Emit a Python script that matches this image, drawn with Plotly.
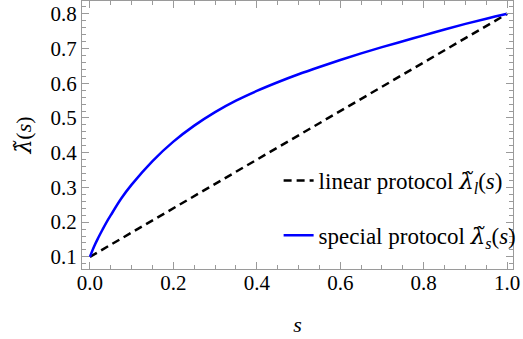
import plotly.graph_objects as go

s_linear = [0.0, 1.0]
lam_linear = [0.1, 0.8]

s_special = [0.0, 0.01, 0.02, 0.03, 0.04, 0.05, 0.075, 0.1, 0.15, 0.2, 0.25, 0.3, 0.35, 0.4, 0.45,
             0.5, 0.55, 0.6, 0.65, 0.7, 0.75, 0.8, 0.85, 0.9, 0.95, 1.0]
lam_special = [0.1, 0.13, 0.155, 0.178, 0.2, 0.22, 0.268, 0.308, 0.376, 0.432, 0.478, 0.517, 0.55,
               0.578, 0.603, 0.626, 0.647, 0.667, 0.686, 0.704, 0.721, 0.738, 0.755, 0.771,
               0.786, 0.8]

x_ticks = [0.0, 0.2, 0.4, 0.6, 0.8, 1.0]
x_ticklabels = ["0.0", "0.2", "0.4", "0.6", "0.8", "1.0"]
y_ticks = [0.1, 0.2, 0.3, 0.4, 0.5, 0.6, 0.7, 0.8]
y_ticklabels = ["0.1", "0.2", "0.3", "0.4", "0.5", "0.6", "0.7", "0.8"]

FONT = "Liberation Serif"
LAM = "<span style='font-family:DejaVu Serif'><i>λ̃</i></span>"

fig = go.Figure()
fig.add_trace(go.Scatter(
    x=s_linear, y=lam_linear, mode="lines",
    line=dict(color="black", width=2.5, dash="8px,5px"),
    name="linear protocol " + LAM + "<sub><i>l</i></sub>(<i>s</i>)",
    legendgroup="a",
))
fig.add_trace(go.Scatter(
    x=s_special, y=lam_special, mode="lines",
    line=dict(color="#0000ff", width=2.5, shape="spline", smoothing=1.0),
    name="special protocol " + LAM + "<sub><i>s</i></sub>(<i>s</i>)",
    legendgroup="b",
))

axis_common = dict(
    showgrid=False, zeroline=False, showline=True, linecolor="#9a9a9a", linewidth=1,
    mirror="allticks", ticks="inside", ticklen=7, tickwidth=1, tickcolor="#9a9a9a",
    tickfont=dict(family=FONT, size=21, color="black"),
    ticklabeloverflow="allow", automargin=False,
)

fig.update_layout(
    width=523, height=339,
    margin=dict(l=82, r=8, t=1, b=70),
    paper_bgcolor="white", plot_bgcolor="white",
    font=dict(family=FONT, size=21, color="black"),
    xaxis=dict(
        range=[-0.019, 1.014], tickvals=x_ticks, ticktext=x_ticklabels,
        minor=dict(dtick=0.05, ticks="inside", ticklen=4, tickcolor="#9a9a9a"),
        ticklabelstandoff=-5,
        title=dict(text="<i>s</i>", font=dict(family=FONT, size=22), standoff=22),
        **axis_common,
    ),
    yaxis=dict(
        range=[0.065, 0.837], tickvals=y_ticks, ticktext=y_ticklabels,
        minor=dict(dtick=0.02, tick0=0, ticks="inside", ticklen=4, tickcolor="#9a9a9a"),
        title=dict(text=LAM + "(<i>s</i>)", font=dict(family=FONT, size=22), standoff=12),
        **axis_common,
    ),
    showlegend=True,
    legend=dict(
        x=1.02, y=0.045, xanchor="right", yanchor="bottom",
        bgcolor="rgba(0,0,0,0)", font=dict(family=FONT, size=23),
        traceorder="grouped", tracegroupgap=22,
    ),
)

fig.write_html("out.html", config={"displayModeBar": False},
               post_script="document.body.style.margin='0px';")
